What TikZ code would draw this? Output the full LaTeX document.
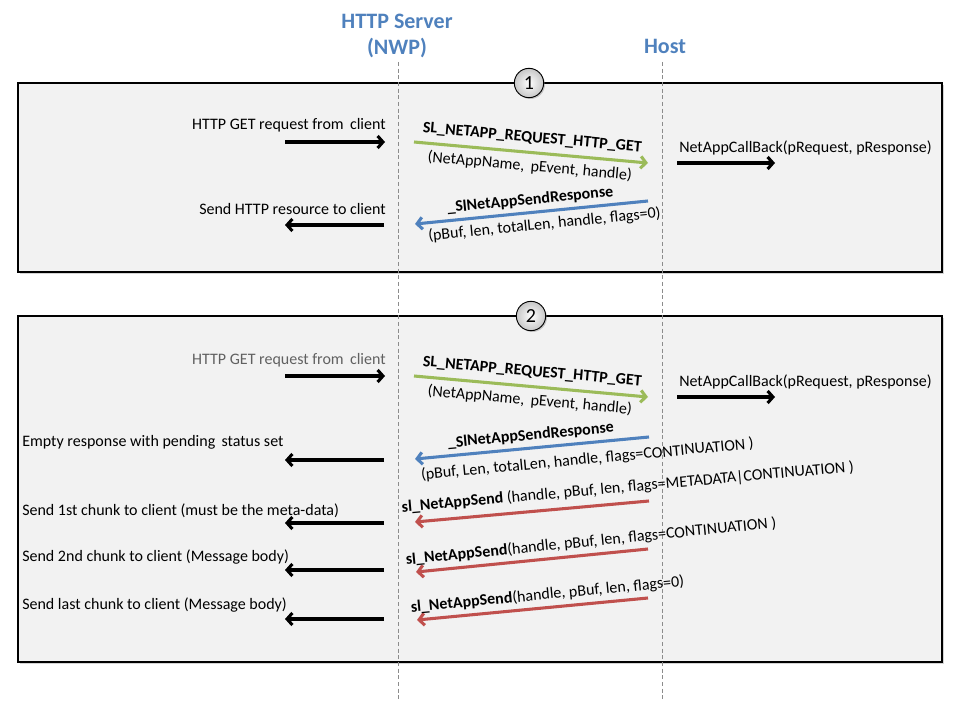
\documentclass[tikz,border=0pt]{standalone}
\usepackage{fontspec}
\setmainfont{Carlito}
\usepackage{xcolor}
\usepackage{tikz}
\usetikzlibrary{positioning,arrows.meta,shadows}

\definecolor{hdrblue}{RGB}{79,129,189}
\definecolor{getgreen}{RGB}{155,187,89}
\definecolor{sendred}{RGB}{192,80,77}
\definecolor{panelgray}{RGB}{242,242,242}

\tikzset{
  panel/.style={draw=black, fill=panelgray, line width=0.8pt,
    drop shadow={shadow xshift=1.5pt, shadow yshift=-1.5pt, opacity=0.35}},
  stepno/.style={circle, draw=black, line width=0.7pt, inner sep=0pt,
    minimum size=22pt, inner color=white, outer color=black!22,
    font=\fontsize{15}{15}\selectfont,
    drop shadow={shadow xshift=1pt, shadow yshift=-1pt, opacity=0.4}},
  lifeline/.style={draw=black!45, line width=0.5pt, dash pattern=on 3pt off 2pt},
  hdr/.style={text=hdrblue, font=\fontsize{16.5}{19}\selectfont\bfseries, align=center},
  lbl/.style={inner sep=0pt, font=\fontsize{12}{14}\selectfont},
  call/.style={inner sep=0pt, font=\fontsize{12}{14}\selectfont, sloped},
  callb/.style={call, font=\fontsize{12}{14}\selectfont\bfseries},
  blk/.style={->, line width=2.3pt, draw=black},
  msg/.style={->, line width=2.3pt},
  >={Straight Barb[length=4pt, width=9pt]}
}

\begin{document}
\begin{tikzpicture}[x=0.75pt, y=-0.75pt]
\useasboundingbox (0,0) rectangle (960,720);

% lifelines heads
\node[hdr] (srv) at (397,36) {HTTP Server\\(NWP)};
\node[hdr] (host) at (665,46) {Host};

% panels
\path[panel] (18,83) rectangle (942,272);
\path[panel] (18,316) rectangle (942,662);

% lifelines
\coordinate (srvtop) at (398,62);
\coordinate (srvbot) at (398,700);
\coordinate (hosttop) at (662,62);
\coordinate (hostbot) at (662,700);
\draw[lifeline] (srvtop) -- (srvbot);
\draw[lifeline] (hosttop) -- (hostbot);

\node[stepno] (one) at (529,83) {1};
\node[stepno] (two) at (531,316) {2};

%% step 1
\node[lbl, anchor=east] (reqA) at (386,125) {HTTP GET request from\, client};
\coordinate (reqAs) at (285,142);
\coordinate (reqAe) at (385,142);
\draw[blk] (reqAs) -- (reqAe);

\coordinate (getAs) at (414,142);
\coordinate (getAe) at (648,163);
\draw[msg, draw=getgreen] (getAs) -- node[callb, above=5pt] (getAt) {SL\_NETAPP\_REQUEST\_HTTP\_GET}
  node[call, below=4pt] (getAa) {(NetAppName,\, pEvent, handle)} (getAe);

\node[lbl, anchor=west] (cbA) at (679,148) {NetAppCallBack(pRequest, pResponse)};
\coordinate (cbAs) at (677,163);
\coordinate (cbAe) at (775,163);
\draw[blk] (cbAs) -- (cbAe);

\coordinate (rspAs) at (648,201);
\coordinate (rspAe) at (415,224);
\draw[msg, draw=hdrblue] (rspAs) -- node[callb, above=3pt] (rspAt) {\_SlNetAppSendResponse}
  node[call, pos=0.45, below=3.5pt] (rspAa) {(pBuf, len, totalLen, handle, flags=0)} (rspAe);

\node[lbl, anchor=east] (resA) at (386,209) {Send HTTP resource to client};
\coordinate (resAs) at (384,225);
\coordinate (resAe) at (285,225);
\draw[blk] (resAs) -- (resAe);

%% step 2
\node[lbl, anchor=east, text=black!62] (reqB) at (386,360) {HTTP GET request from\, client};
\coordinate (reqBs) at (285,376);
\coordinate (reqBe) at (385,376);
\draw[blk] (reqBs) -- (reqBe);

\coordinate (getBs) at (414,376);
\coordinate (getBe) at (648,397);
\draw[msg, draw=getgreen] (getBs) -- node[callb, above=5pt] (getBt) {SL\_NETAPP\_REQUEST\_HTTP\_GET}
  node[call, below=4pt] (getBa) {(NetAppName,\, pEvent, handle)} (getBe);

\node[lbl, anchor=west] (cbB) at (679,382) {NetAppCallBack(pRequest, pResponse)};
\coordinate (cbBs) at (677,397);
\coordinate (cbBe) at (775,397);
\draw[blk] (cbBs) -- (cbBe);

\coordinate (rspBs) at (649,437);
\coordinate (rspBe) at (415,459);
\draw[msg, draw=hdrblue] (rspBs) -- node[callb, above=3pt] (rspBt) {\_SlNetAppSendResponse}
  node[call, pos=0.27, below=6pt] (rspBa) {(pBuf, Len, totalLen, handle, flags=CONTINUATION )} (rspBe);

\node[lbl, anchor=west] (emptyB) at (22,442) {Empty response with pending\, status set};
\coordinate (emptyBs) at (384,460);
\coordinate (emptyBe) at (285,460);
\draw[blk] (emptyBs) -- (emptyBe);

\coordinate (sndAs) at (649,501);
\coordinate (sndAe) at (415,522);
\draw[msg, draw=sendred] (sndAs) -- node[call, pos=0.085, above=5pt] (sndAt) {\textbf{sl\_NetAppSend} (handle, pBuf, len, flags=METADATA|CONTINUATION )} (sndAe);

\node[lbl, anchor=west] (chunkA) at (22,511) {Send 1st chunk to client (must be the meta-data)};
\coordinate (chunkAs) at (384,523);
\coordinate (chunkAe) at (285,523);
\draw[blk] (chunkAs) -- (chunkAe);

\coordinate (sndBs) at (648,549);
\coordinate (sndBe) at (416,572);
\draw[msg, draw=sendred] (sndBs) -- node[call, pos=0.24, above=3pt] (sndBt) {\textbf{sl\_NetAppSend}(handle, pBuf, len, flags=CONTINUATION )} (sndBe);

\node[lbl, anchor=west] (chunkB) at (22,557) {Send 2nd chunk to client (Message body)};
\coordinate (chunkBs) at (384,570);
\coordinate (chunkBe) at (285,570);
\draw[blk] (chunkBs) -- (chunkBe);

\coordinate (sndCs) at (648,598);
\coordinate (sndCe) at (417,620);
\draw[msg, draw=sendred] (sndCs) -- node[call, pos=0.43, above=3pt] (sndCt) {\textbf{sl\_NetAppSend}(handle, pBuf, len, flags=0)} (sndCe);

\node[lbl, anchor=west] (chunkC) at (22,605) {Send last chunk to client (Message body)};
\coordinate (chunkCs) at (384,619);
\coordinate (chunkCe) at (285,619);
\draw[blk] (chunkCs) -- (chunkCe);
\end{tikzpicture}
\end{document}
